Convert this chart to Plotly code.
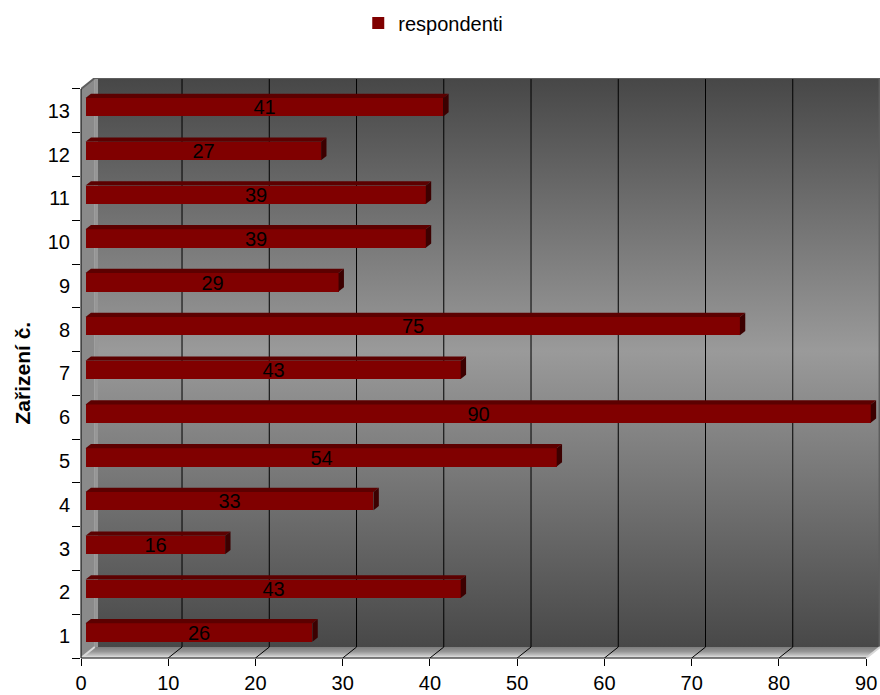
import plotly.graph_objects as go

# ---- data -------------------------------------------------------------
categories = ["1", "2", "3", "4", "5", "6", "7", "8", "9", "10", "11", "12", "13"]
respondenti = [26, 43, 16, 33, 54, 90, 43, 75, 29, 39, 39, 27, 41]
x_ticks = [0, 10, 20, 30, 40, 50, 60, 70, 80, 90]
series_name = "respondenti"
y_title = "Zařizení č."

# ---- 3D box geometry (axis units) --------------------------------------
DX = 1.58          # box depth along x
DY = 0.25          # box depth along y
X_MAX = x_ticks[-1]
N = len(categories)
Y_LO, Y_HI = 0.5, N + 0.5
BAR_FRONT, BAR_BACK = 0.33, 0.72   # depth fractions of the bar slab
BAR_W = 0.42

FONT = "Arial, 'Liberation Sans', sans-serif"
BAR_RED = "#800000"
TOP_RED = "#5c0000"
END_RED = "#3c0000"

pos = list(range(1, N + 1))
bar_y = [p + BAR_FRONT * DY for p in pos]
bar_base = BAR_FRONT * DX
ddx = (BAR_BACK - BAR_FRONT) * DX
ddy = (BAR_BACK - BAR_FRONT) * DY

fig = go.Figure()

# back wall with a vertical dark-light-dark gradient
fig.add_trace(go.Scatter(
    x=[DX, X_MAX + DX, X_MAX + DX, DX, DX],
    y=[Y_LO + DY, Y_LO + DY, Y_HI + DY, Y_HI + DY, Y_LO + DY],
    mode="none", fill="toself",
    fillgradient=dict(type="vertical", start=Y_LO + DY, stop=Y_HI + DY,
                      colorscale=[[0, "#484848"], [0.52, "#9a9a9a"], [1, "#474747"]]),
    hoverinfo="skip", showlegend=False))

# left side wall
fig.add_trace(go.Scatter(
    x=[0, DX, DX, 0, 0],
    y=[Y_LO, Y_LO + DY, Y_HI + DY, Y_HI, Y_LO],
    mode="none", fill="toself", fillcolor="#8a8a8a",
    hoverinfo="skip", showlegend=False))

# floor
fig.add_trace(go.Scatter(
    x=[0, X_MAX, X_MAX + DX, DX, 0],
    y=[Y_LO, Y_LO, Y_LO + DY, Y_LO + DY, Y_LO],
    mode="none", fill="toself",
    fillgradient=dict(type="vertical", start=Y_LO, stop=Y_LO + DY,
                      colorscale=[[0, "#f2f2f2"], [0.25, "#c2c2c2"],
                                  [0.6, "#959595"], [1, "#7e7e7e"]]),
    hoverinfo="skip", showlegend=False))

# light edge where the side wall meets the back wall
fig.add_trace(go.Scatter(
    x=[DX + 0.2, DX + 0.2], y=[Y_LO + DY, Y_HI + DY],
    mode="lines", line=dict(color="#979797", width=3),
    hoverinfo="skip", showlegend=False))

# vertical gridlines on the back wall plus their floor diagonals
gx, gy = [], []
for g in x_ticks[1:-1]:
    gx += [g, g + DX, g + DX, None]
    gy += [Y_LO, Y_LO + DY, Y_HI + DY, None]
fig.add_trace(go.Scatter(
    x=gx, y=gy, mode="lines", line=dict(color="#000000", width=1),
    hoverinfo="skip", showlegend=False))

# box edges
fig.add_trace(go.Scatter(
    x=[0, DX, None, X_MAX + DX - 0.05, X_MAX + DX - 0.05, None, DX, X_MAX + DX],
    y=[Y_HI, Y_HI + DY, None, Y_LO + DY, Y_HI + DY, None, Y_HI + DY, Y_HI + DY],
    mode="lines", line=dict(color="#5e5e5e", width=2),
    hoverinfo="skip", showlegend=False))
fig.add_trace(go.Scatter(
    x=[X_MAX, X_MAX + DX, None, 0, DX],
    y=[Y_LO, Y_LO + DY, None, Y_LO, Y_LO + DY],
    mode="lines", line=dict(color="#d8d8d8", width=2),
    hoverinfo="skip", showlegend=False))

# bars (front faces) on an overlaid y axis so they sit above the walls
fig.add_trace(go.Bar(
    x=respondenti, y=bar_y, base=[bar_base] * N, orientation="h",
    width=BAR_W, yaxis="y2", name=series_name,
    marker=dict(color=BAR_RED, line=dict(width=0)),
    text=[str(v) for v in respondenti], textposition="inside",
    insidetextanchor="middle", textangle=0, constraintext="none",
    textfont=dict(family=FONT, size=20, color="#000000"),
    hoverinfo="x+y", showlegend=True))

# top and end faces of each bar
shapes = []
for v, yc in zip(respondenti, bar_y):
    yt, yb = yc + BAR_W / 2, yc - BAR_W / 2
    x0, x1 = bar_base, bar_base + v
    shapes.append(dict(
        type="path", xref="x", yref="y2", layer="above", line=dict(width=0),
        fillcolor=TOP_RED,
        path=f"M{x0},{yt} L{x1},{yt} L{x1 + ddx},{yt + ddy} L{x0 + ddx},{yt + ddy} Z"))
    shapes.append(dict(
        type="path", xref="x", yref="y2", layer="above", line=dict(width=0),
        fillcolor=END_RED,
        path=f"M{x1},{yb} L{x1 + ddx},{yb + ddy} L{x1 + ddx},{yt + ddy} L{x1},{yt} Z"))

# front axis lines
shapes.append(dict(type="line", xref="paper", yref="y", x0=0, x1=0, y0=Y_LO, y1=Y_HI,
                   line=dict(color="#000000", width=1), layer="above"))
shapes.append(dict(type="line", xref="x", yref="paper", x0=0, x1=X_MAX, y0=0, y1=0,
                   line=dict(color="#000000", width=1), layer="above"))

fig.update_layout(
    width=880, height=695,
    margin=dict(l=81, r=0, t=78, b=37),
    paper_bgcolor="#ffffff", plot_bgcolor="rgba(0,0,0,0)",
    font=dict(family=FONT, size=20, color="#000000"),
    bargap=0,
    shapes=shapes,
    xaxis=dict(range=[0, X_MAX + DX], tickvals=x_ticks, ticks="outside",
               ticklen=7, tickcolor="#000000", tickwidth=1,
               showgrid=False, zeroline=False, showline=False,
               tickfont=dict(family=FONT, size=20, color="#000000")),
    yaxis=dict(range=[Y_LO, Y_HI + DY], tickvals=pos, ticktext=categories,
               ticks="", showgrid=False, zeroline=False, showline=False,
               ticklabelstandoff=10,
               tickfont=dict(family=FONT, size=20, color="#000000"),
               minor=dict(tickmode="array", tickvals=[p - 0.5 for p in pos] + [Y_HI],
                          ticks="outside", ticklen=8, tickcolor="#000000",
                          tickwidth=1, showgrid=False)),
    yaxis2=dict(range=[Y_LO, Y_HI + DY], overlaying="y", visible=False),
    legend=dict(orientation="h", x=0.347, y=1.095, xanchor="left", yanchor="middle",
                bgcolor="rgba(0,0,0,0)",
                font=dict(family=FONT, size=20, color="#000000")),
    annotations=[dict(text=y_title, textangle=-90, xref="paper", yref="paper",
                      x=-0.0738, y=0.4905, xanchor="center", yanchor="middle",
                      showarrow=False,
                      font=dict(family=FONT, size=21, color="#000000", weight="bold"))],
)

fig.write_html("out.html")
